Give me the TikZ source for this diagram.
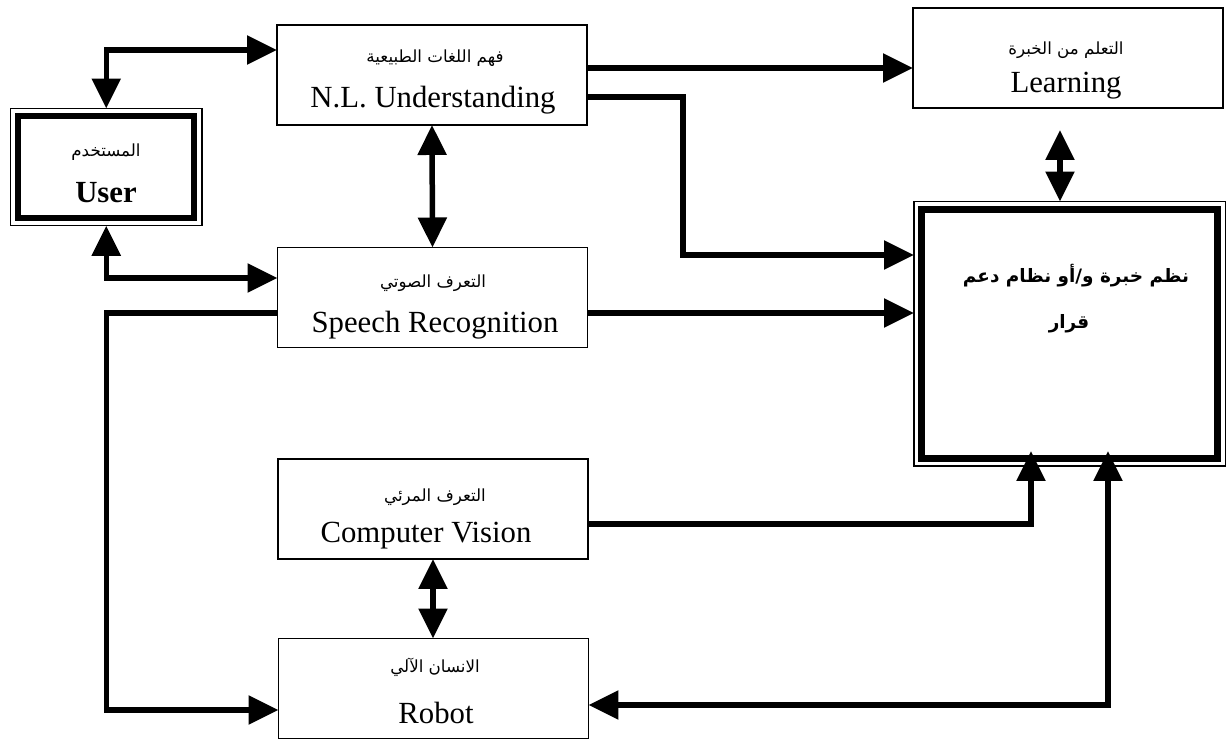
\documentclass[tikz,border=0pt]{standalone}
\usepackage{fontspec}
\setmainfont{Liberation Serif}
\newfontfamily\arabicfont[Script=Arabic]{DejaVu Sans}
\TeXXeTstate=1
\usetikzlibrary{arrows.meta,calc}

\tikzset{
  box/.style={draw, line width=1pt, minimum width=6.2cm, minimum height=2cm,
    inner sep=0pt, outer sep=0pt},
  framed/.style={draw, inner sep=0pt, outer sep=0.15cm},
  rim/.style={line width=0.7pt},
  en/.style={anchor=base, inner sep=0pt, font=\fontsize{17.5}{20}\selectfont},
  ar/.style={anchor=base, inner sep=0pt, font=\arabicfont\fontsize{9.5}{12}\selectfont},
  arbig/.style={anchor=base, inner sep=0pt, font=\arabicfont\bfseries\fontsize{10.5}{13}\selectfont},
  conn/.style={line width=0.11cm},
  >={Triangle[length=0.6cm,width=0.56cm]},
}

\begin{document}
\begin{tikzpicture}[x=0.02cm, y=-0.02cm]
\useasboundingbox (0,0) rectangle (1230,742);

% user block with a thick frame and a thin rim around it
\node[framed, line width=0.12cm, minimum width=3.53cm, minimum height=2.046cm] (user) at (106.25,167.15) {};
\draw[rim] (user.north west) rectangle (user.south east);
\node[ar] (user-ar) at (106,157) {\beginR المستخدم\endR};
\node[en, font=\bfseries\fontsize{17.5}{20}\selectfont] (user-en) at (106,203) {User};

% processing blocks
\node[box] (nlu) at (432,75) {};
\node[ar] (nlu-ar) at (435,63) {\beginR فهم اللغات الطبيعية\endR};
\node[en] (nlu-en) at (433,108) {N.L. Understanding};

\node[box] (speech) at (432.5,297.5) {};
\node[ar] (speech-ar) at (433,288) {\beginR التعرف الصوتي\endR};
\node[en] (speech-en) at (435,333) {Speech Recognition};

\node[box] (vision) at (433,509) {};
\node[ar] (vision-ar) at (435,502) {\beginR التعرف المرئي\endR};
\node[en] (vision-en) at (426,543) {Computer Vision};

\node[box] (robot) at (433.5,688.5) {};
\node[ar] (robot-ar) at (435,672) {\beginR الانسان الآلي\endR};
\node[en] (robot-en) at (436,723) {Robot};

\node[box] (learn) at (1068,58) {};
\node[ar] (learn-ar) at (1066,55) {\beginR التعلم من الخبرة\endR};
\node[en] (learn-en) at (1066,93) {Learning};

% expert / decision support block
\node[framed, line width=0.14cm, minimum width=5.93cm, minimum height=4.99cm] (expert) at (1069.75,333.75) {};
\draw[rim] (expert.north west) rectangle (expert.south east);
\node[arbig] (expert-ar1) at (1076,283) {\beginR نظم خبرة و/أو نظام دعم\endR};
\node[arbig] (expert-ar2) at (1069,329) {\beginR قرار\endR};

% connectors
\coordinate (lx) at (1060,0);

\draw[conn,<->] (user.north) |- ($(nlu.west)+(0,-25)$);
\draw[conn,<->] (user.south) |- ($(speech.west)+(0,-19.5)$);
\draw[conn,<->] (nlu.south) -- (speech.north);
\draw[conn,->] ($(nlu.east)+(0,-7)$) coordinate (nl1) -- (nl1 -| learn.west);
\draw[conn,->] ($(nlu.east)+(0,22)$) -| ($(expert.west)+(-231,-78.75)$) -- ($(expert.west)+(0,-78.75)$);
\draw[conn,->] ($(speech.east)+(0,15.5)$) coordinate (sp1) -- (sp1 -| expert.west);
\draw[conn,->] ($(speech.west)+(0,15.5)$) -- ++(-171,0) |- ($(robot.west)+(0,21.5)$);
\draw[conn,<->] (vision.south) -- (vision.south |- robot.north);
\draw[conn,->, shorten >=-0.3cm] ($(vision.east)+(0,15)$) -| ($(expert.south)+(-38.75,0)$);
\draw[conn,<->, shorten >=-0.3cm] ($(robot.east)+(0,16.5)$) -| ($(expert.south)+(38.25,0)$);
\draw[conn,<->, shorten <=0.44cm] (learn.south -| lx) -- (expert.north -| lx);
\end{tikzpicture}
\end{document}
